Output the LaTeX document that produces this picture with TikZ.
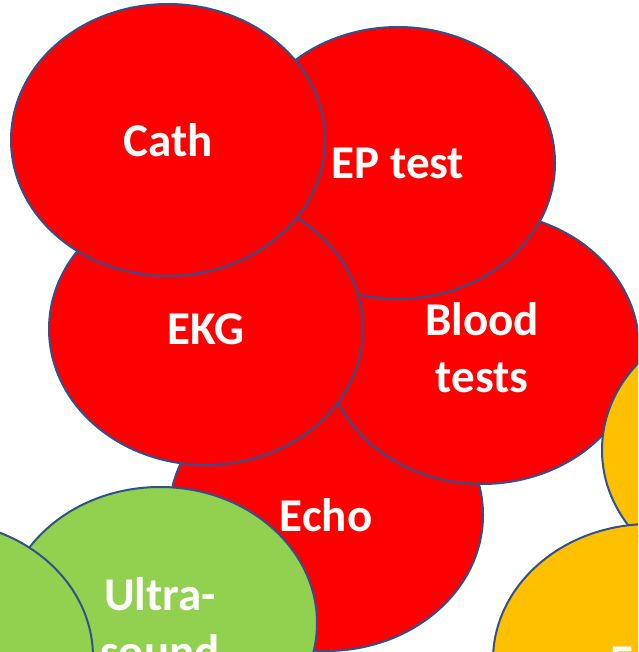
\documentclass[tikz,border=0pt]{standalone}
\usepackage{fontspec}
\setmainfont{Carlito}
\usetikzlibrary{shapes.geometric}
\definecolor{outl}{RGB}{47,82,143}
\definecolor{cred}{RGB}{255,0,0}
\definecolor{cgreen}{RGB}{146,208,80}
\definecolor{cyellow}{RGB}{255,192,0}
\tikzset{
  blob/.style={ellipse, draw=outl, line width=2pt, minimum width=314pt, minimum height=272pt, inner sep=0pt,
    text=white, align=center, font=\fontsize{47}{57}\selectfont\bfseries},
  redb/.style={blob, fill=cred},
  greenb/.style={blob, fill=cgreen},
  yellowb/.style={blob, fill=cyellow},
  lbl/.style={text=white, inner sep=0pt, font=\fontsize{47}{57}\selectfont\bfseries}
}
\begin{document}
\begin{tikzpicture}[x=1pt,y=-1pt]
\useasboundingbox (0,0) rectangle (638,652);
\clip (0,0) rectangle (638,652);
\node[redb] (echo) at (326,515) {Echo};
\node[redb] (blood) at (482,348) {Blood\\tests};
\node[redb] (ep) at (398,163) {EP test};
\node[redb] (ekg) at (206,329) {EKG};
\node[redb] (cath) at (168,140) {Cath};
\node[greenb] (us) at (160,623) {Ultra-\\sound};
\node[greenb] (lg) at (-64,657) {};
\node[yellowb] (yt) at (759,450) {};
\node[yellowb] (yb) at (650,660) {};
\node[lbl, anchor=base west] (e) at (610,677) {E};
\end{tikzpicture}
\end{document}
